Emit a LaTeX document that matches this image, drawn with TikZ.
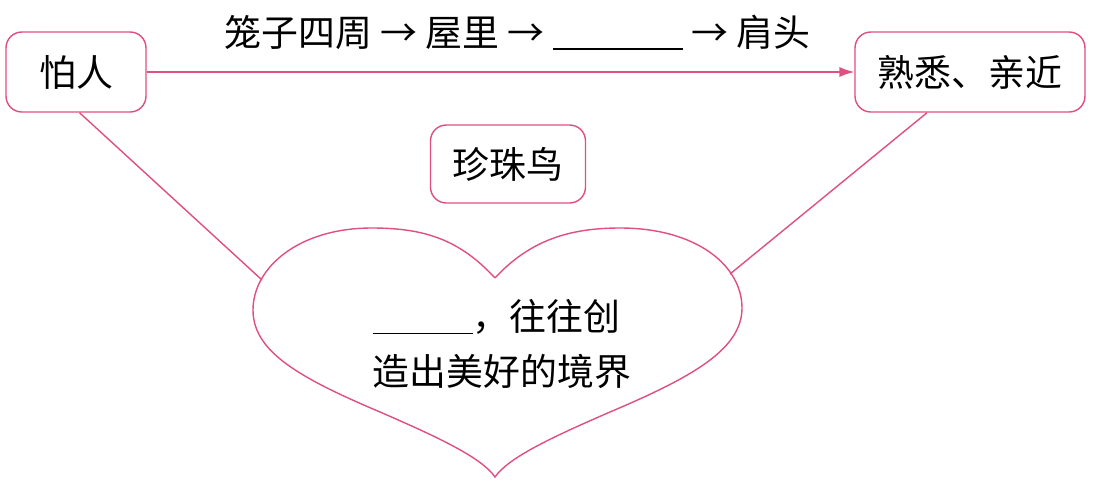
\documentclass[tikz,border=0pt]{standalone}
\usepackage{fontspec}
\setmainfont{Noto Sans CJK SC}
\usepackage{xcolor}
\definecolor{rose}{HTML}{E0507E}
\usepackage{tikz}
\usetikzlibrary{positioning,arrows.meta}

\newcommand{\blank}[1]{\rule[-2pt]{#1}{0.8pt}}

\begin{document}
\begin{tikzpicture}[x=0.02cm,y=-0.02cm,
  font=\fontsize{21}{31}\selectfont,
  boite/.style={draw=rose,line width=0.8pt,rounded corners=9pt,align=center,inner sep=0pt},
  lien/.style={rose,line width=0.8pt},
  fleche/.style={-{Latex[length=3mm,width=2mm]},rose,line width=0.8pt}
]
\useasboundingbox (0,0) rectangle (1103,484);
% ---- cases ----
\node[boite,minimum width=2.8cm,minimum height=1.6cm] (peur) at (76,72) {怕人};
\node[boite,minimum width=4.6cm,minimum height=1.6cm] (proche) at (970,72) {熟悉、亲近};
\node[boite,minimum width=3.1cm,minimum height=1.56cm] (oiseau) at (508,164) {珍珠鸟};
% ---- fleche du haut ----
\draw[fleche] (peur.east) -- (proche.west)
  node[midway,above=9pt,xshift=0.34cm,text=black] (etapes) {笼子四周 → 屋里 → \blank{2.6cm} → 肩头};
% ---- coeur ----
\draw[lien] (495,278) .. controls (460,240) and (425,228) .. (372,228)
  .. controls (298,228) and (253,268) .. (253,310)
  .. controls (253,352) and (300,378) .. (380,412)
  .. controls (440,438) and (482,458) .. (495,477)
  .. controls (508,458) and (550,438) .. (610,412)
  .. controls (690,378) and (742,350) .. (742,308)
  .. controls (742,266) and (697,228) .. (620,228)
  .. controls (570,228) and (530,240) .. (495,278);
\coordinate (coeurG) at (262,280);
\coordinate (coeurD) at (730,274);
\node[align=left] (coeur) at (502,344) {\blank{2.0cm}，往往创\\造出美好的境界};
% ---- liens ----
\draw[lien] ([xshift=2pt]peur.south) -- (coeurG);
\draw[lien] ([xshift=-43*0.02cm]proche.south) -- (coeurD);
\end{tikzpicture}
\end{document}
